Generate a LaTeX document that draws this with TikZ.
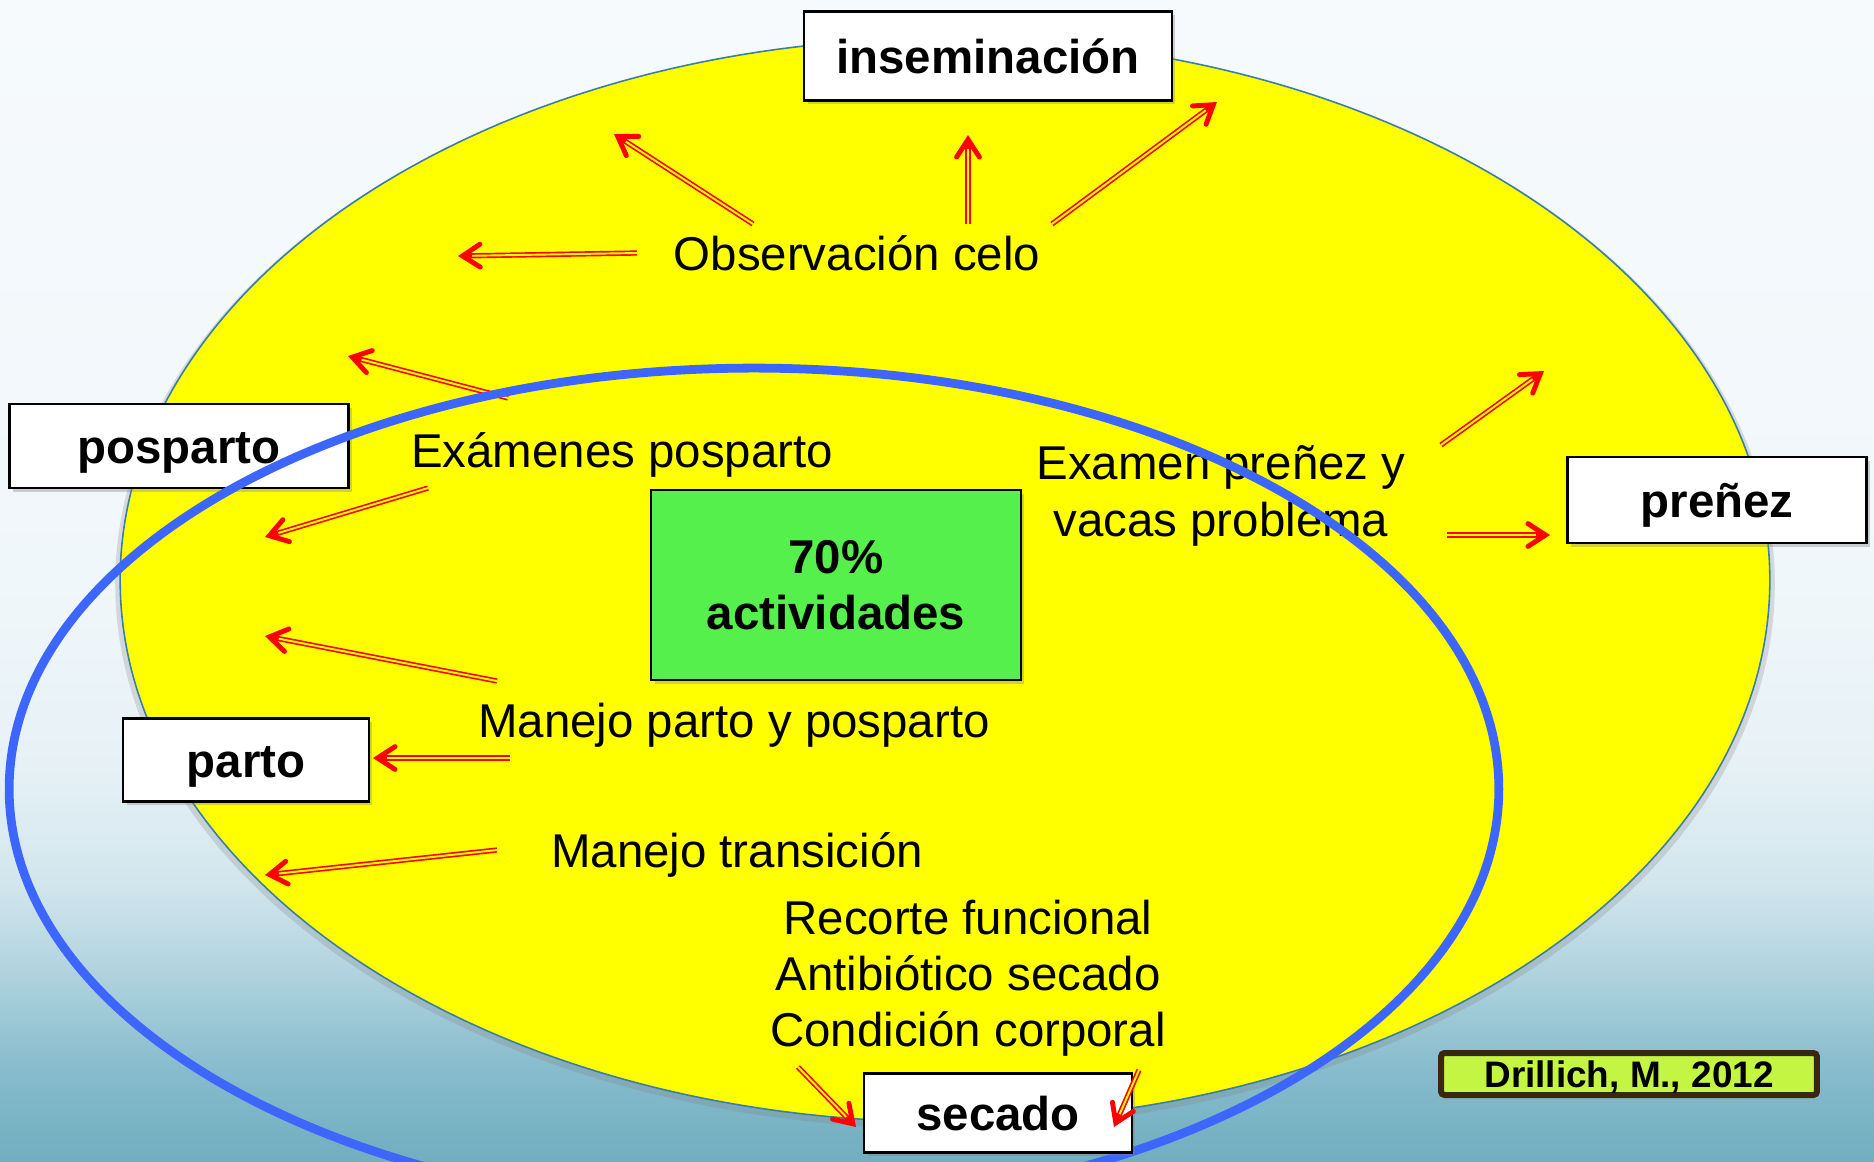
\documentclass[tikz,border=0pt]{standalone}
\usepackage{fontspec}
\setmainfont{Liberation Sans}
\usetikzlibrary{arrows.meta,shadows}

\definecolor{amarillo}{RGB}{255,255,0}
\definecolor{borde}{RGB}{58,126,168}
\definecolor{azul}{RGB}{61,102,255}
\definecolor{verde}{RGB}{85,240,75}
\definecolor{lima}{RGB}{196,245,66}
\definecolor{cafe}{RGB}{59,38,16}
\definecolor{rojo}{RGB}{255,0,0}
\definecolor{c0}{RGB}{112,174,192}
\definecolor{c1}{RGB}{135,188,204}
\definecolor{c2}{RGB}{175,210,222}
\definecolor{c3}{RGB}{210,230,237}
\definecolor{c4}{RGB}{230,241,246}
\definecolor{c5}{RGB}{240,247,250}
\definecolor{c6}{RGB}{246,250,253}

\pgfdeclareverticalshading{fondo}{100bp}{color(0bp)=(c0); color(25bp)=(c0);
  color(29bp)=(c1); color(33bp)=(c2); color(37bp)=(c3); color(42bp)=(c4);
  color(50bp)=(c5); color(75bp)=(c6); color(100bp)=(c6)}

\begin{document}
\begin{tikzpicture}[x=0.02cm, y=-0.02cm,
    caja/.style={draw, line width=1.4pt, fill=white, inner sep=0pt,
      font=\fontsize{27}{32}\selectfont\bfseries,
      text height=20pt, text depth=0pt,
      drop shadow={shadow xshift=2pt, shadow yshift=-2pt, opacity=0.35}},
    texto/.style={font=\fontsize{27}{32}\selectfont, inner sep=0pt,
      text height=13pt, text depth=0pt},
    bloque/.style={font=\fontsize{27}{32}\selectfont, inner sep=0pt, align=center},
    flecha/.style={rojo, line width=3pt,
      -{Straight Barb[length=10pt, width=13pt, line width=2.8pt, line cap=round]},
      postaction={draw=amarillo, line width=1.1pt, -, shorten >=8pt}}]

  \clip (0,0) rectangle (1874,1161);
  \fill[shading=fondo] (0,0) rectangle (1874,1161);

  % circulo amarillo
  \fill[amarillo, draw=borde, line width=0.9pt,
    drop shadow={shadow xshift=0pt, shadow yshift=-2pt, shadow scale=1.006, opacity=0.25}]
    (945,580) ellipse [x radius=16.5cm, y radius=10.84cm];

  \coordinate (s1) at (753,224);  \coordinate (e1) at (614,134);
  \coordinate (s2) at (968,224);  \coordinate (e2) at (968,135);
  \coordinate (s3) at (1052,224); \coordinate (e3) at (1217,102);
  \coordinate (s4) at (637,253);  \coordinate (e4) at (458,256);
  \coordinate (s5) at (508,398);  \coordinate (e5) at (348,356);
  \coordinate (s6) at (428,488);  \coordinate (e6) at (265,537);
  \coordinate (s7) at (1441,445); \coordinate (e7) at (1544,371);
  \coordinate (s8) at (1447,535); \coordinate (e8) at (1550,535);
  \coordinate (s9) at (497,681);  \coordinate (e9) at (265,636);
  \coordinate (s10) at (510,758); \coordinate (e10) at (373,758);
  \coordinate (s11) at (497,850); \coordinate (e11) at (265,875);
  \coordinate (s12) at (798,1067); \coordinate (e12) at (856,1127);
  \coordinate (s13) at (1139,1070); \coordinate (e13) at (1114,1127);

  \foreach \i in {1,...,11}
    \draw[flecha] (s\i) -- (e\i);

  \node[texto] (obs) at (857,259) {Observación celo};
  \node[texto] (exam) at (622,456) {Exámenes posparto};
  \node[bloque] (prez) at (1221,496) {Examen preñez y\\vacas problema};
  \node[texto] (mpp) at (734,726) {Manejo parto y posparto};
  \node[texto] (mtr) at (737,856) {Manejo transición};
  \node[bloque] (rec) at (968,978) {Recorte funcional\\Antibiótico secado\\Condición corporal};

  \node[caja, minimum width=6.78cm, minimum height=1.68cm] (posparto) at (179,446) {posparto};

  % circulo azul
  \draw[azul, line width=5pt] (754,789) ellipse [x radius=14.9cm, y radius=8.42cm];

  \node[caja, minimum width=7.36cm, minimum height=1.78cm] (insem) at (988,56) {inseminación};
  \node[caja, minimum width=5.98cm, minimum height=1.72cm] (prenez) at (1717,500) {preñez};
  \node[caja, minimum width=4.92cm, minimum height=1.66cm] (parto) at (246,760) {parto};
  \node[caja, minimum width=5.36cm, minimum height=1.58cm] (secado) at (998,1113) {secado};
  \node[draw, line width=1.4pt, fill=verde, inner sep=0pt, align=center,
    font=\fontsize{27}{32}\selectfont\bfseries,
    minimum width=7.4cm, minimum height=3.8cm,
    drop shadow={shadow xshift=2pt, shadow yshift=-2pt, opacity=0.35}] (act) at (836,585) {70\%\\actividades};
  \node[draw=cafe, line width=3.4pt, fill=lima, rounded corners=2pt, inner sep=0pt,
    font=\fontsize{21}{25}\selectfont\bfseries, text height=15pt, text depth=0pt,
    minimum width=7.52cm, minimum height=0.84cm] (drill) at (1629,1074) {Drillich, M., 2012};

  \draw[flecha] (s12) -- (e12);
  \draw[flecha] (s13) -- (e13);
\end{tikzpicture}
\end{document}
